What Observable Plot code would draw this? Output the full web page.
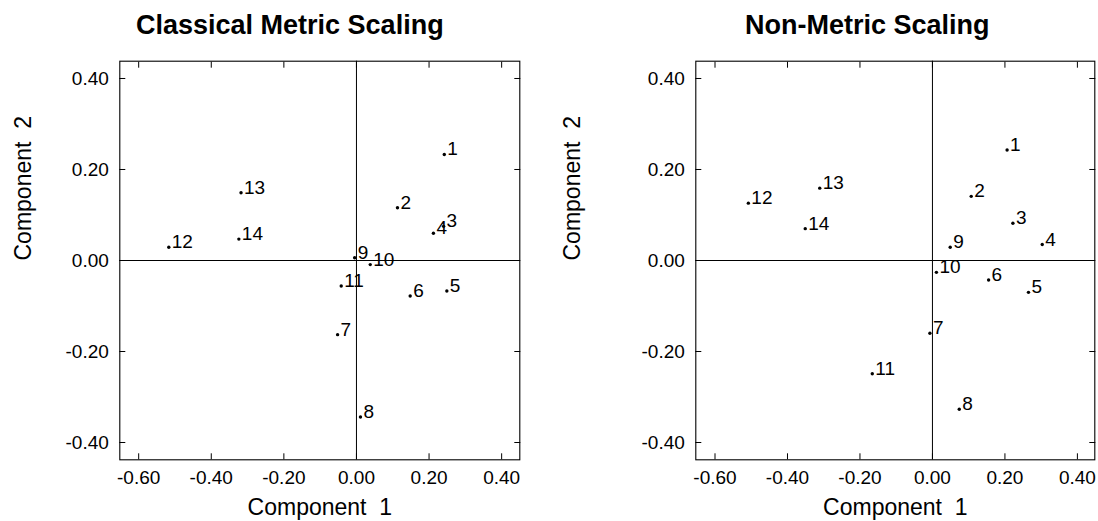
<!DOCTYPE html>
<html><head><meta charset="utf-8">
<script src="https://cdn.jsdelivr.net/npm/d3@7"></script>
<script src="https://cdn.jsdelivr.net/npm/@observablehq/plot@0.6"></script>
<style>
body{margin:0;background:#fff;}
#wrap{position:relative;width:1098px;height:521px;overflow:hidden;}
#wrap svg{position:absolute;top:0;}
</style></head><body><div id="wrap"></div>
<script>
const labels = ["1","2","3","4","5","6","7","8","9","10","11","12","13","14"];
const cmsX = [0.242, 0.113, 0.240, 0.212, 0.249, 0.148, -0.052, 0.011, -0.005, 0.038, -0.042, -0.517, -0.318, -0.324];
const cmsY = [0.233, 0.116, 0.075, 0.060, -0.067, -0.078, -0.163, -0.344, 0.006, -0.009, -0.056, 0.029, 0.149, 0.047];
const nmsX = [0.206, 0.107, 0.222, 0.303, 0.265, 0.155, -0.007, 0.074, 0.049, 0.011, -0.166, -0.508, -0.311, -0.351];
const nmsY = [0.243, 0.141, 0.082, 0.035, -0.070, -0.043, -0.160, -0.327, 0.029, -0.026, -0.249, 0.126, 0.159, 0.070];
const xTicks = [-0.6, -0.4, -0.2, 0, 0.2, 0.4];
const yTicks = [-0.4, -0.2, 0, 0.2, 0.4];
const titles = ["Classical Metric Scaling", "Non-Metric Scaling"];
const xLabel = "Component\u00a0\u00a01";
const yLabel = "Component\u00a0\u00a02";

const FONT = "'Liberation Sans', Arial, Helvetica, sans-serif";
const fmt = d => d.toFixed(2);
const blank = () => "";

function panel(xs, ys, title, ml, mr, xDomain, titleDx) {
  const data = labels.map((l, i) => ({label: l, x: xs[i], y: ys[i]}));
  return Plot.plot({
    width: 549, height: 521,
    marginLeft: ml, marginRight: mr, marginTop: 60.7, marginBottom: 61.7,
    x: {domain: xDomain},
    y: {domain: [-0.438, 0.438]},
    style: {fontFamily: FONT, background: "white", color: "black", overflow: "visible"},
    marks: [
      Plot.ruleX([0], {stroke: "black", strokeWidth: 1}),
      Plot.ruleY([0], {stroke: "black", strokeWidth: 1}),
      Plot.frame({stroke: "black", strokeWidth: 1.1}),
      Plot.axisX({anchor: "bottom", ticks: xTicks, tickSize: 0, tickPadding: 10.5, tickFormat: fmt, fontSize: 19, label: null}),
      Plot.axisY({anchor: "left", ticks: yTicks, tickSize: 0, tickPadding: 11, tickFormat: fmt, fontSize: 19, label: null}),
      Plot.axisX({anchor: "bottom", ticks: xTicks, tickSize: -6, tickFormat: blank, label: null}),
      Plot.axisX({anchor: "top", ticks: xTicks, tickSize: -6, tickFormat: blank, label: null}),
      Plot.axisY({anchor: "left", ticks: yTicks, tickSize: -6, tickFormat: blank, label: null}),
      Plot.axisY({anchor: "right", ticks: yTicks, tickSize: -6, tickFormat: blank, label: null}),
      Plot.dot(data, {x: "x", y: "y", r: 1.7, fill: "black", stroke: null}),
      Plot.text(data, {x: "x", y: "y", text: "label", textAnchor: "start", lineAnchor: "bottom", dx: 3, dy: 1, fontSize: 19, fill: "black"}),
      Plot.text([title], {frameAnchor: "top", text: d => d, lineAnchor: "bottom", dy: -27.7, dx: titleDx, fontSize: 27, fontWeight: "bold", fill: "black"}),
      Plot.text([xLabel], {frameAnchor: "bottom", text: d => d, lineAnchor: "bottom", dy: 54.7, fontSize: 23, fill: "black"}),
      Plot.text([yLabel], {frameAnchor: "left", text: d => d, rotate: -90, lineAnchor: "bottom", dx: 30 - ml, fontSize: 23, fill: "black"})
    ]
  });
}

const wrap = document.getElementById("wrap");
const left = panel(cmsX, cmsY, titles[0], 119.3, 29.7, [-0.652, 0.450], -30);
left.style.left = "0px";
const right = panel(nmsX, nmsY, titles[1], 146.3, 3.7, [-0.653, 0.448], -28);
right.style.left = "549px";
wrap.appendChild(left);
wrap.appendChild(right);
</script></body></html>
